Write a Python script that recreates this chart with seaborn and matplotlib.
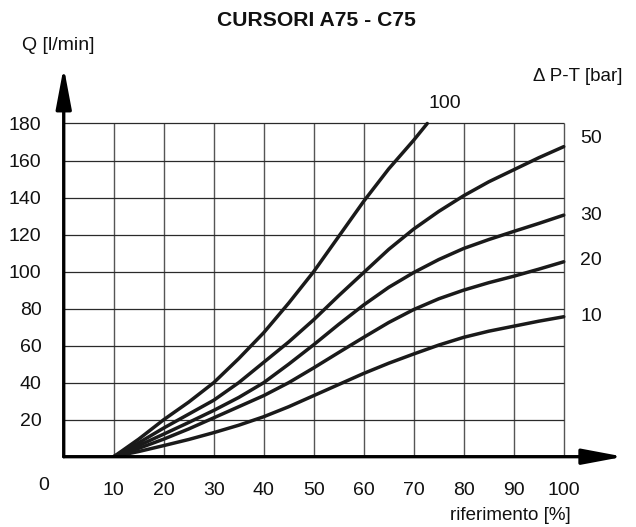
import matplotlib
matplotlib.use("Agg")
import matplotlib.pyplot as plt
import seaborn as sns
import pandas as pd

# ---------------- data ----------------
title = "CURSORI A75 - C75"
x_label = "riferimento [%]"
y_label = "Q [l/min]"
legend_title = "\u0394 P-T [bar]"

x_ticks = [10, 20, 30, 40, 50, 60, 70, 80, 90, 100]
y_ticks = [20, 40, 60, 80, 100, 120, 140, 160, 180]

x_common = [10, 15, 20, 25, 30, 35, 40, 45, 50, 55, 60, 65, 70, 75, 80, 85, 90, 95, 100]
q_10 = [0, 2.8, 6, 9.3, 13, 17, 21.6, 27, 33, 39, 45, 50.5, 55.5, 60.3, 64.5, 67.8, 70.5, 73.2, 75.6]
q_20 = [0, 4.5, 9.5, 15, 21, 27, 33, 40, 48, 56.3, 64.5, 72.5, 79.5, 85.3, 90, 94, 97.5, 101.3, 105.3]
q_30 = [0, 6, 12.2, 18.5, 25, 32, 40, 50, 60.5, 71.5, 82, 91.5, 99.5, 106.5, 112.5, 117.3, 121.7, 126, 130.5]
q_50 = [0, 7.5, 15.5, 23, 30.5, 40, 51, 62, 74, 87, 99.5, 112, 123, 132.5, 141, 148.5, 155, 161.5, 167.5]
x_100 = [10, 15, 20, 25, 30, 35, 40, 45, 50, 55, 60, 65, 70, 72.7]
q_100 = [0, 9.5, 20, 29.5, 40, 53, 67, 83, 100, 119, 138, 155.5, 171, 180]

curve_labels = ["10", "20", "30", "50", "100"]

rows = []
for lab, xs, ys in [("10", x_common, q_10), ("20", x_common, q_20),
                    ("30", x_common, q_30), ("50", x_common, q_50),
                    ("100", x_100, q_100)]:
    for xv, yv in zip(xs, ys):
        rows.append({"rif": xv, "Q": yv, "dp": lab})
df = pd.DataFrame(rows)

# ---------------- figure ----------------
sns.set_style("white")
plt.rcParams["font.family"] = ["Liberation Sans", "DejaVu Sans"]

fig = plt.figure(figsize=(6.36, 5.27), dpi=100)
ax = fig.add_axes([0.1002, 0.1334, 0.8884, 0.7552])
ax.set_xlim(0, 113)
ax.set_ylim(0, 215)

# grid (limited to the chart area)
ax.vlines(x_ticks, 0, max(y_ticks), colors="#555555", linewidth=1.0, zorder=1)
ax.hlines(y_ticks, 0, max(x_ticks), colors="#2a2a2a", linewidth=0.9, zorder=1)

sns.lineplot(data=df, x="rif", y="Q", hue="dp", hue_order=curve_labels,
             palette=["#1a1a1a"] * len(curve_labels), units="dp",
             estimator=None, sort=False, linewidth=2.5, legend=False,
             ax=ax, zorder=3)
for ln in ax.lines:
    ln.set_solid_joinstyle("round")
    ln.set_solid_capstyle("round")

for s in ax.spines.values():
    s.set_visible(False)

# axes with arrows
arrow_kw = dict(arrowstyle="-|>,head_length=2.5,head_width=0.47",
                color="black", lw=2.4, mutation_scale=10,
                shrinkA=0, shrinkB=0)
ax.annotate("", xy=(112, 0), xytext=(0, 0), arrowprops=arrow_kw,
            annotation_clip=False, zorder=4)
ax.annotate("", xy=(0, 210.5), xytext=(0, 0), arrowprops=arrow_kw,
            annotation_clip=False, zorder=4)

fs = 14
tc = "#111111"
ax.set_xticks(x_ticks)
ax.set_xticklabels([str(v) for v in x_ticks])
ax.set_yticks(y_ticks)
ax.set_yticklabels([str(v) for v in y_ticks])
ax.tick_params(axis="x", length=0, pad=18, labelsize=fs, colors=tc)
ax.tick_params(axis="y", length=0, pad=16, labelsize=fs, colors=tc)
ax.set_xlabel("")
ax.set_ylabel("")

# corner "0"
ax.text(-4.0, -15.3, "0", ha="center", va="center", fontsize=fs,
        color=tc, clip_on=False)

# axis titles
ax.text(101.5, -32, x_label, ha="right", va="center", fontsize=13.5,
        color=tc, clip_on=False)
ax.text(-8.4, 222, y_label, ha="left", va="center", fontsize=fs,
        color=tc, clip_on=False)
ax.text(111.7, 205.5, legend_title, ha="right", va="center", fontsize=13.5,
        color=tc, clip_on=False)

# curve labels
end_label_pos = {"50": (103.3, 172), "30": (103.3, 130.5), "20": (103.3, 106),
                 "10": (103.3, 76), "100": (76.3, 191)}
for lab in curve_labels:
    px, py = end_label_pos[lab]
    ha = "center" if lab == "100" else "left"
    ax.text(px, py, lab, ha=ha, va="center", fontsize=fs, color=tc,
            clip_on=False)

fig.text(316 / 636, 1 - 20 / 527, title, ha="center", va="center",
         fontsize=15.2, fontweight="bold", color=tc)

fig.savefig("out.png", dpi=100)
